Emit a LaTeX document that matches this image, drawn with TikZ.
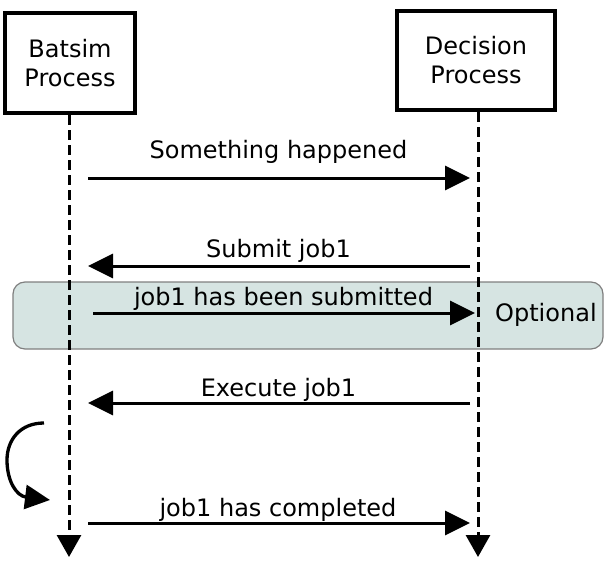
\documentclass[tikz,border=0pt]{standalone}
\usepackage{fontspec}
\setmainfont{DejaVu Sans}
\usetikzlibrary{arrows.meta}
\definecolor{bandfill}{HTML}{D6E4E2}
\definecolor{bandline}{HTML}{7F7F7F}
\begin{document}
\begin{tikzpicture}[x=1pt,y=-1pt,
  proc/.style={draw=black,line width=3.8pt,inner sep=0pt,align=center,
    font=\fontsize{24}{29}\selectfont},
  life/.style={line width=3pt,dash pattern=on 10pt off 5pt,
    -{Triangle[length=22pt,width=24pt]}},
  msg/.style={line width=3pt,-{Triangle[length=25pt,width=24pt]}},
  lbl/.style={font=\fontsize{24}{29}\selectfont,anchor=base,inner sep=0pt},
  band/.style={draw=bandline,fill=bandfill,line width=1.2pt,rounded corners=12pt}]
\useasboundingbox (0,0) rectangle (605,567);
% optional band
\draw[band] (13,282) rectangle (603,349);
% process boxes
\node[proc,minimum width=130.5pt,minimum height=100.5pt] (batsim) at (70,63) {Batsim\\Process};
\node[proc,minimum width=158.5pt,minimum height=99.5pt] (decision) at (476,60.5) {Decision\\Process};
% lifeline ends
\coordinate (bend) at (69,557);
\coordinate (dend) at (478,557);
\draw[life] (batsim.south -| bend) -- (bend);
\draw[life] (decision.south -| dend) -- (dend);
% message end points
\coordinate (m1a) at (88,178);  \coordinate (m1b) at (470,178);
\coordinate (m2a) at (470,266); \coordinate (m2b) at (88,266);
\coordinate (m3a) at (93,313);  \coordinate (m3b) at (475,313);
\coordinate (m4a) at (470,403); \coordinate (m4b) at (88,403);
\coordinate (m5a) at (88,523);  \coordinate (m5b) at (470,523);
\draw[msg] (m1a) -- (m1b);
\draw[msg] (m2a) -- (m2b);
\draw[msg] (m3a) -- (m3b);
\draw[msg] (m4a) -- (m4b);
\draw[msg] (m5a) -- (m5b);
% labels
\node[lbl] (t1) at (278.5,159) {Something happened};
\node[lbl] (t2) at (278.5,257) {Submit job1};
\node[lbl] (t3) at (283.5,305) {job1 has been submitted};
\node[lbl] (t4) at (278.5,396) {Execute job1};
\node[lbl] (t5) at (278,516) {job1 has completed};
\node[lbl,anchor=base west] (topt) at (495,321) {Optional};
% self arrow
\coordinate (sa) at (44,423);
\coordinate (sb) at (50,500);
\draw[msg,line width=3.3pt] (sa) .. controls (20,423) and (7,440) .. (7,460)
  .. controls (7,482) and (17,496) .. (sb);
\end{tikzpicture}
\end{document}
